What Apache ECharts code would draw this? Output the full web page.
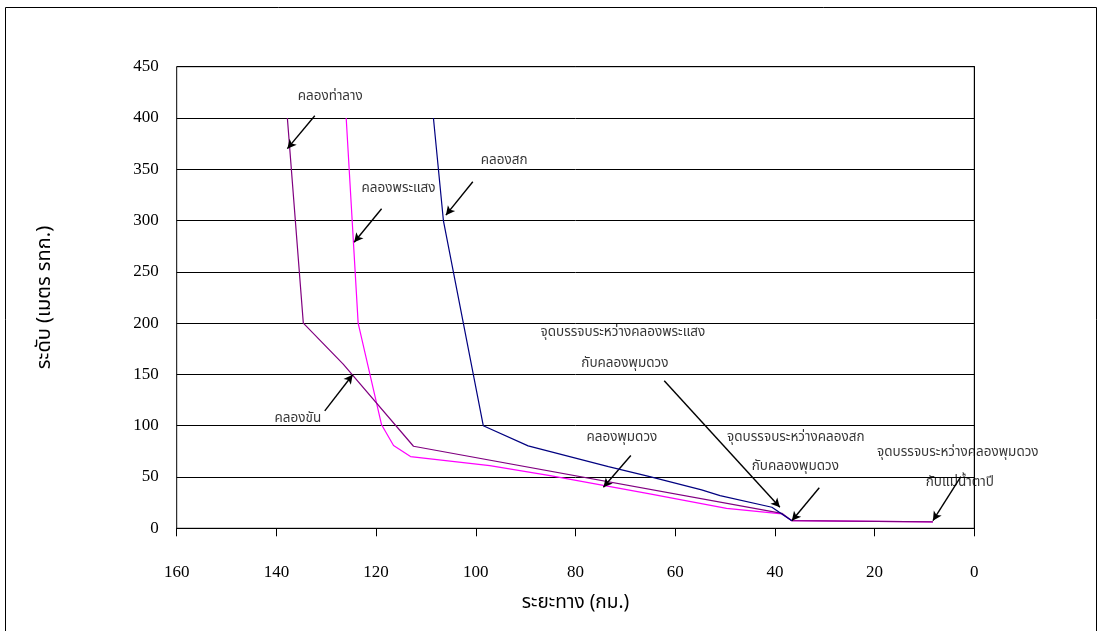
<!DOCTYPE html>
<html><head><meta charset="utf-8">
<script src="https://cdn.jsdelivr.net/npm/echarts@6/dist/echarts.min.js"></script>
<style>html,body{margin:0;padding:0;background:#fff}#c{width:1101px;height:631px}</style>
</head><body><div id="c"></div>
<script>
const THAI = "'Noto Sans Thai','Noto Serif Thai','Loma','Garuda','Norasi','Tlwg Typo','DejaVu Sans',sans-serif";
const SERIF = "'Liberation Serif','DejaVu Serif',serif";

// Distances (km) and elevations (m MSL)
const thalangKm   = [137.8, 134.6, 126.6, 112.5, 38.6, 36.6, 8.3];
const thalangElev = [400, 200, 160, 80, 14.6, 7.4, 6.2];
const prasaengKm   = [126.0, 123.6, 118.9, 116.5, 113.1, 97.2, 85.1, 65.1, 49.7, 38.6, 36.6, 8.3];
const prasaengElev = [400, 200, 100.9, 80.7, 69.9, 61.1, 51.4, 33.5, 19.5, 14, 7.4, 6.2];
const sokKm   = [108.5, 106.5, 98.5, 89.5, 73.4, 65.1, 54.7, 51.0, 40.6, 38.6, 36.6];
const sokElev = [400, 300, 100, 80.4, 60.2, 50.4, 37.4, 31.8, 20.5, 14, 7.4];

const xTicks = [0, 20, 40, 60, 80, 100, 120, 140, 160];
const yTicks = [0, 50, 100, 150, 200, 250, 300, 350, 400, 450];

// Annotation texts (position in data coords)
const noteTexts = ['คลองท่าลาง','คลองพระแสง','คลองสก','คลองขัน','คลองพุมดวง',
  'จุดบรรจบระหว่างคลองพระแสง','กับคลองพุมดวง',
  'จุดบรรจบระหว่างคลองสก','กับคลองพุมดวง',
  'จุดบรรจบระหว่างคลองพุมดวง','กับแม่น้ำตาปี'];
const noteKm   = [129.2, 115.5, 94.3, 135.7, 70.7, 70.5, 70.1, 35.8, 35.9, 3.3, 2.9];
const noteElev = [420.5, 330.4, 357.4, 106.7, 87.9, 189.7, 160.2, 87.9, 59.6, 73.2, 43.9];

// Arrows: start (km, elev) -> end (km, elev)
const arrowFromKm   = [132.3, 118.9, 100.6, 130.3, 68.9, 62.2, 31.1, 2.7];
const arrowFromElev = [402.2, 311.5, 337.9, 114.5, 70.9, 143.8, 39.6, 50.4];
const arrowToKm     = [137.8, 124.4, 106.0, 124.7, 74.4, 39.0, 36.6, 8.3];
const arrowToElev   = [370.1, 278.9, 305.3, 149.7, 40.0, 20.5, 7.4, 7.4];

const zip = (a, b) => a.map((v, i) => [v, b[i]]);

const chart = echarts.init(document.getElementById('c'));
chart.setOption({
  backgroundColor: '#fff',
  animation: false,
  graphic: [{type:'rect', shape:{x:5.5, y:7.5, width:1091, height:640}, style:{fill:'none', stroke:'#000', lineWidth:1}, silent:true}],
  grid: {left:176.7, right:126.7, top:66.7, bottom:102.7, show:true, borderColor:'#000', borderWidth:1, backgroundColor:'transparent'},
  xAxis: {
    type:'value', inverse:true, min:0, max:160, interval:20,
    name:'ระยะทาง (กม.)', nameLocation:'middle', nameGap:66,
    nameTextStyle:{fontFamily:THAI, fontSize:19, color:'#000'},
    axisLine:{lineStyle:{color:'#000', width:1}},
    axisTick:{show:true, length:8, lineStyle:{color:'#000'}},
    axisLabel:{margin:36, fontFamily:SERIF, fontSize:17, color:'#000',
      formatter: v => xTicks.includes(v) ? String(v) : ''},
    splitLine:{show:false}
  },
  yAxis: {
    type:'value', min:0, max:450, interval:50,
    name:'ระดับ (เมตร รทก.)', nameLocation:'middle', nameGap:121, nameRotate:90,
    nameTextStyle:{fontFamily:THAI, fontSize:20, color:'#000'},
    axisLine:{show:true, lineStyle:{color:'#000', width:1}},
    axisTick:{show:true, length:7, inside:false, lineStyle:{color:'#000'}},
    axisLabel:{margin:18, fontFamily:SERIF, fontSize:17, color:'#000',
      formatter: v => yTicks.includes(v) ? String(v) : ''},
    splitLine:{show:true, lineStyle:{color:'#000', width:1}}
  },
  series: [
    {type:'line', name:'คลองพระแสง', data:zip(prasaengKm, prasaengElev), showSymbol:false, symbol:'none',
      lineStyle:{color:'#FF00FF', width:1.2}, itemStyle:{color:'#FF00FF'}, z:3},
    {type:'line', name:'คลองท่าลาง', data:zip(thalangKm, thalangElev), showSymbol:false, symbol:'none',
      lineStyle:{color:'#800080', width:1.2}, itemStyle:{color:'#800080'}, z:4},
    {type:'line', name:'คลองสก', data:zip(sokKm, sokElev), showSymbol:false, symbol:'none',
      lineStyle:{color:'#000080', width:1.2}, itemStyle:{color:'#000080'}, z:5},
    {type:'line', name:'arrows', data:[], silent:true, z:6,
      markLine:{silent:true, symbol:['none','arrow'], symbolSize:[7,9], animation:false,
        lineStyle:{color:'#000', width:1.4, type:'solid'}, label:{show:false},
        data: arrowFromKm.map((k, i) => [
          {coord:[k, arrowFromElev[i]]},
          {coord:[arrowToKm[i], arrowToElev[i]]}
        ])}},
    {type:'scatter', name:'notes', silent:true, z:7, symbolSize:1, clip:false,
      itemStyle:{color:'rgba(0,0,0,0)'},
      data: noteTexts.map((t, i) => ({name:t, value:[noteKm[i], noteElev[i]]})),
      label:{show:true, position:'inside', formatter:'{b}', fontFamily:THAI, fontSize:13.5, color:'#000'}}
  ]
});
</script></body></html>
